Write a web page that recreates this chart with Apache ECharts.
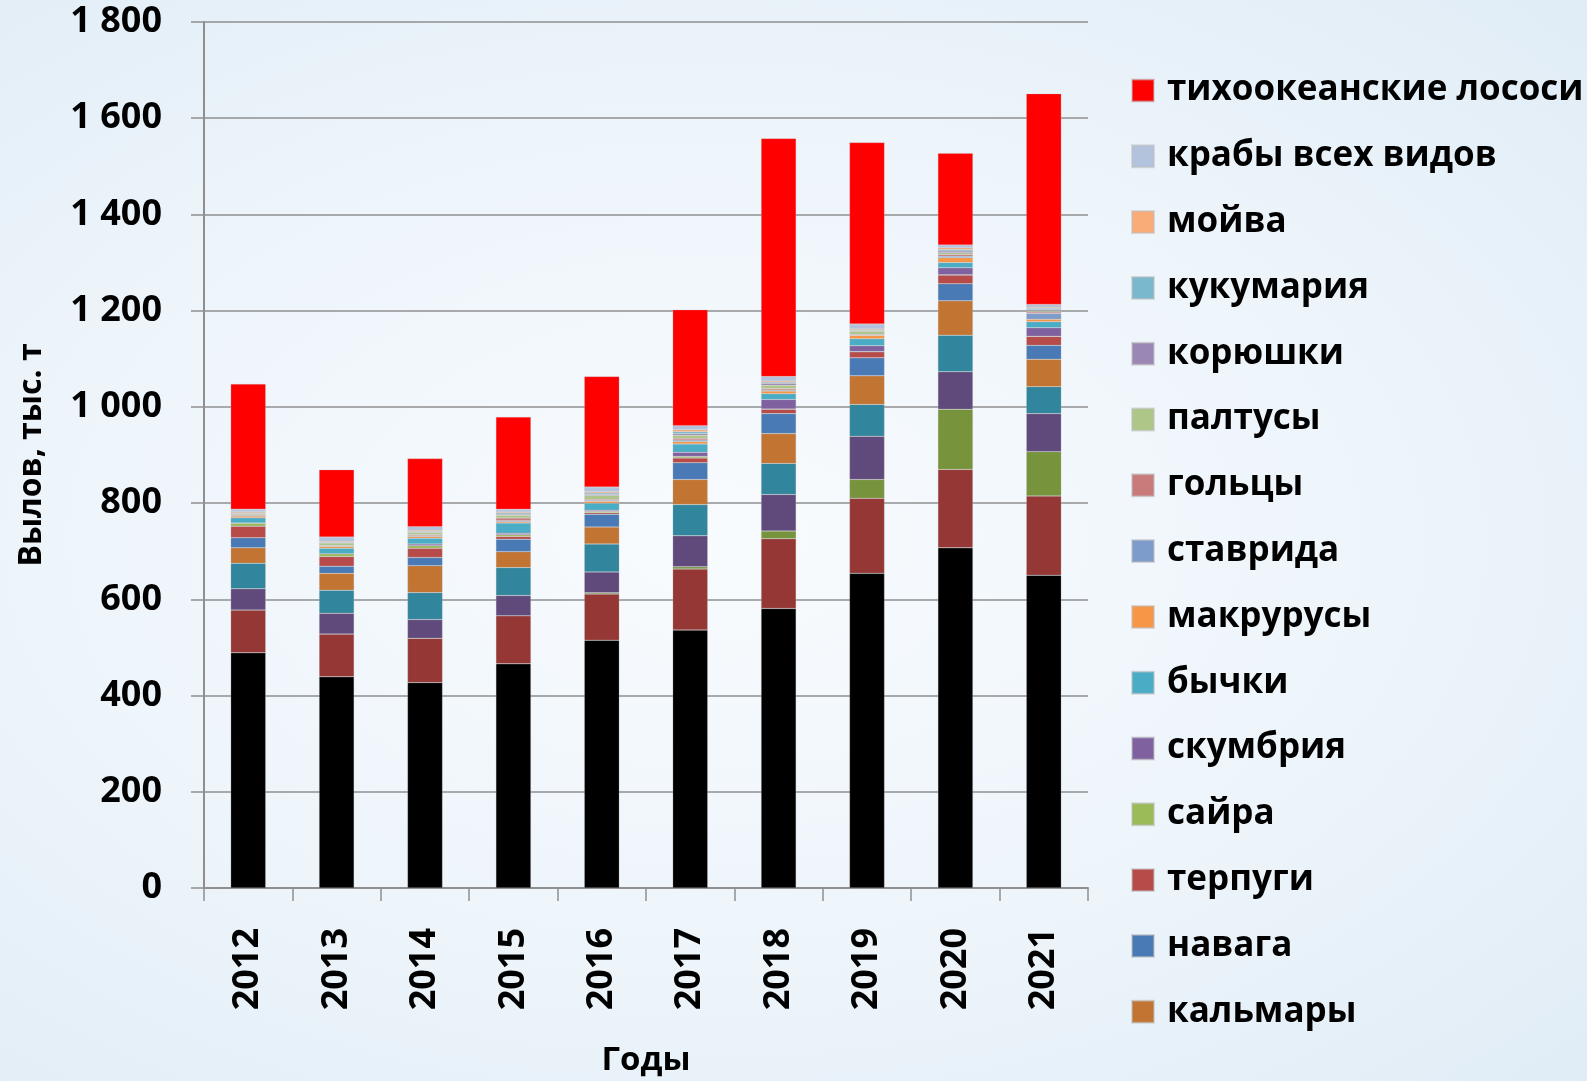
<!DOCTYPE html>
<html>
<head>
<meta charset="utf-8">
<script src="https://cdn.jsdelivr.net/npm/echarts@6/dist/echarts.min.js"></script>
<style>
  html, body { margin: 0; padding: 0; }
  body { background: radial-gradient(ellipse at 45% 50%, #f8fbfe 0%, #ecf4fa 60%, #e0ecf6 100%); }
  #chart { width: 1587px; height: 1081px; }
</style>
</head>
<body>
<div id="chart"></div>
<script>
// годы
const years = ['2012', '2013', '2014', '2015', '2016', '2017', '2018', '2019', '2020', '2021']

// вылов, тыс. т (снизу вверх по столбику)
const mintai = [489, 439, 427, 466, 515, 536, 581, 654, 707, 650]
const seld = [89, 89, 92, 100, 96, 127, 145, 156, 163, 165]
const sardina = [0, 0, 0, 0, 2.5, 4.5, 16, 39, 125, 92]
const treska = [44, 43, 39, 42, 43.5, 64.5, 76, 90, 78, 79]
const kambaly = [53, 48, 56, 58, 58, 65, 64.5, 66, 76, 56]
const kalmary = [32, 35, 56, 33, 35.5, 52, 62, 59.5, 71.5, 57]
const navaga = [21, 15, 17, 26, 26.5, 35, 41.5, 37.5, 35.5, 29]
const terpugi = [24, 20, 19, 5.5, 3, 10, 9, 12.5, 18, 18.5]
const saira = [6, 5.5, 5.5, 3.5, 2.8, 3, 0.5, 0.5, 0.5, 0.5]
const skumbria = [0.5, 0.5, 3.5, 3.5, 2.5, 8.5, 20, 12, 14.5, 17.5]
const bychki = [11, 11, 12, 21, 14.5, 17.5, 12, 14.5, 11, 12.5]
const makrurusy = [3.5, 4, 3.5, 3, 4, 5, 5.5, 7, 10, 5]
const stavrida = [1, 1, 1.5, 2, 2, 3, 2, 1, 3.3, 12]
const golcy = [2, 1, 2, 5.5, 2, 4, 3, 1.5, 3.5, 3]
const paltusy = [2, 5, 5, 6, 8, 6, 7, 6, 3.5, 3]
const koryushki = [1, 1, 1, 2, 2, 3, 4, 1.5, 3.5, 2]
const kukumaria = [1, 1, 1.5, 2.5, 3, 4.5, 2, 1.5, 3.5, 3]
const moiva = [2, 1.5, 2, 2, 3, 4, 3, 2, 3.5, 2]
const kraby = [5.5, 9, 7.5, 5.5, 9.5, 8.5, 9, 10.5, 5.5, 6]
const lososi = [260, 140, 141.5, 192, 230, 241, 495, 377, 191, 438]

// тики оси Y
const yTicks = { min: 0, max: 1800, interval: 200 }

const seriesList = [
  { name: 'минтай', data: mintai, color: '#000000' },
  { name: 'сельдь', data: seld, color: '#953735' },
  { name: 'сардина иваси', data: sardina, color: '#77933c' },
  { name: 'треска', data: treska, color: '#604a7b' },
  { name: 'камбалы', data: kambaly, color: '#31859c' },
  { name: 'кальмары', data: kalmary, color: '#c27533' },
  { name: 'навага', data: navaga, color: '#4a7ab5' },
  { name: 'терпуги', data: terpugi, color: '#b64b49' },
  { name: 'сайра', data: saira, color: '#9bbb59' },
  { name: 'скумбрия', data: skumbria, color: '#7f61a0' },
  { name: 'бычки', data: bychki, color: '#4bacc6' },
  { name: 'макрурусы', data: makrurusy, color: '#f79646' },
  { name: 'ставрида', data: stavrida, color: '#7d9bcb' },
  { name: 'гольцы', data: golcy, color: '#c97b7b' },
  { name: 'палтусы', data: paltusy, color: '#afc689' },
  { name: 'корюшки', data: koryushki, color: '#9b87b5' },
  { name: 'кукумария', data: kukumaria, color: '#7ab8cd' },
  { name: 'мойва', data: moiva, color: '#f9ab78' },
  { name: 'крабы всех видов', data: kraby, color: '#b3c3de' },
  { name: 'тихоокеанские лососи', data: lososi, color: '#ff0000' }
]

// в легенде видны только верхние 15 рядов (как в исходнике)
const legendNames = seriesList.slice(5).map(s => s.name).reverse()

const font = '"Open Sans", "DejaVu Sans", sans-serif'

const chart = echarts.init(document.getElementById('chart'), null, { renderer: 'canvas' })

const option = {
  backgroundColor: 'transparent',
  animation: false,
  grid: { left: 204, right: 499, top: 22, bottom: 193, outerBoundsMode: 'none', containLabel: false },
  legend: {
    orient: 'vertical',
    left: 1131,
    top: 73,
    padding: 0,
    data: legendNames,
    icon: 'rect',
    itemWidth: 22,
    itemHeight: 22,
    itemGap: 30.8,
    textStyle: {
      fontFamily: font,
      fontWeight: 'bold',
      fontSize: 35,
      lineHeight: 34,
      color: '#000',
      padding: [0, 0, 0, 8]
    }
  },
  xAxis: {
    type: 'category',
    data: years,
    name: 'Годы',
    nameLocation: 'middle',
    nameGap: 156,
    nameTextStyle: { fontFamily: font, fontWeight: 'bold', fontSize: 33, color: '#000' },
    axisLine: { lineStyle: { color: '#8f8f8f', width: 2 } },
    axisTick: { show: true, length: 13, lineStyle: { color: '#8f8f8f', width: 1.5 } },
    axisLabel: {
      rotate: 90,
      margin: 40,
      fontFamily: font,
      fontWeight: 'bold',
      fontSize: 36,
      color: '#000'
    }
  },
  yAxis: {
    type: 'value',
    min: yTicks.min,
    max: yTicks.max,
    interval: yTicks.interval,
    name: 'Вылов, тыс. т',
    nameLocation: 'middle',
    nameRotate: 90,
    nameGap: 156,
    nameTextStyle: { fontFamily: font, fontWeight: 'bold', fontSize: 32, color: '#000' },
    axisLine: { show: true, lineStyle: { color: '#8f8f8f', width: 2 } },
    axisTick: { show: true, length: 13, lineStyle: { color: '#8f8f8f', width: 1.5 } },
    splitLine: { lineStyle: { color: '#8f8f8f', width: 1.5 } },
    axisLabel: {
      margin: 42,
      fontFamily: font,
      fontWeight: 'bold',
      fontSize: 36,
      color: '#000',
      formatter: v => String(v).replace(/\B(?=(\d{3})+(?!\d))/g, ' ')
    }
  },
  series: seriesList.map(s => ({
    name: s.name,
    type: 'bar',
    stack: 'total',
    barWidth: 35,
    data: s.data,
    itemStyle: { color: s.color, borderColor: 'rgba(190,190,190,0.5)', borderWidth: 0.5 }
  }))
}

chart.setOption(option)
</script>
</body>
</html>
